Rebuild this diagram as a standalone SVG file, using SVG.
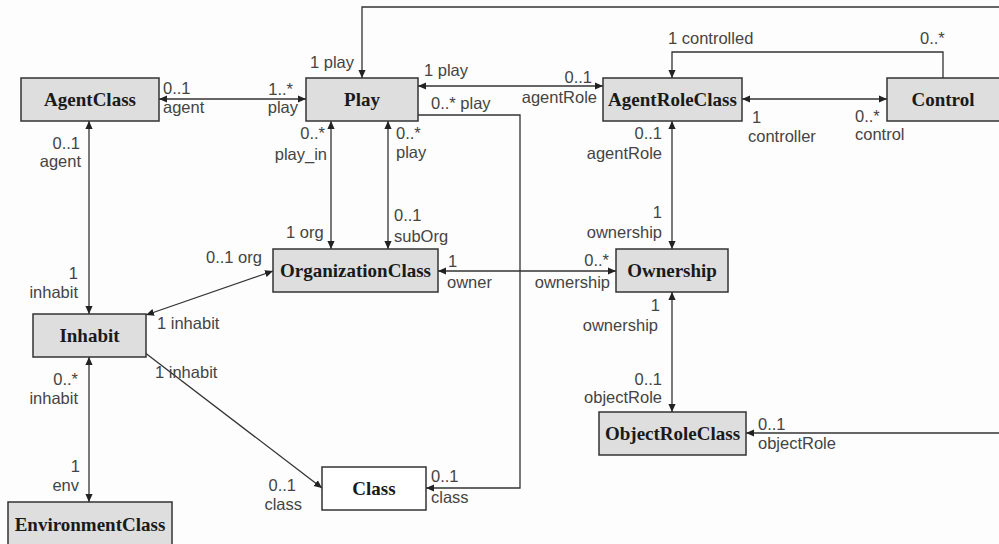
<svg xmlns="http://www.w3.org/2000/svg" width="999" height="544" viewBox="0 0 999 544">
<defs>
<marker id="ah" viewBox="0 0 10 10" refX="10" refY="5" markerWidth="8" markerHeight="8" markerUnits="userSpaceOnUse" orient="auto-start-reverse">
<path d="M0,0.5 L10,5 L0,9.5 Z" fill="#222"/>
</marker>
<marker id="ah2" viewBox="0 0 10 10" refX="10" refY="5" markerWidth="8" markerHeight="8" markerUnits="userSpaceOnUse" orient="auto">
<path d="M0,0.5 L10,5 L0,9.5 Z" fill="#222"/>
</marker>
</defs>
<style>
.box{fill:#dedede;stroke:#333;stroke-width:1.5}
.wbox{fill:#fff;stroke:#333;stroke-width:1.5}
.nt{font-family:"Liberation Serif","Times New Roman",serif;font-size:19px;font-weight:bold;fill:#1a1a1a;text-anchor:middle}
.c{fill:none;stroke:#333;stroke-width:1.3}
.b{marker-start:url(#ah);marker-end:url(#ah)}
.e{marker-end:url(#ah2)}
.l{font-family:"Liberation Sans",Arial,sans-serif;font-size:16.5px;fill:#444}
.r{text-anchor:end}
</style>
<rect width="999" height="544" fill="#fdfdfd"/>
<g id="connectors">
<path class="c e" d="M999,7 H362 V78"/>
<path class="c e" d="M943,78 V52 H672 V78"/>
<line class="c b" x1="159" y1="99" x2="306" y2="99"/>
<line class="c b" x1="418" y1="86" x2="603" y2="86"/>
<line class="c b" x1="742" y1="99" x2="887" y2="99"/>
<path class="c e" d="M418,115 H520 V488 H426"/>
<line class="c b" x1="89" y1="121" x2="89" y2="314"/>
<line class="c b" x1="89" y1="357" x2="89" y2="502"/>
<line class="c b" x1="331" y1="121" x2="331" y2="249"/>
<line class="c b" x1="388" y1="121" x2="388" y2="249"/>
<line class="c b" x1="146" y1="315" x2="273" y2="271"/>
<line class="c e" x1="144" y1="352" x2="322" y2="488"/>
<line class="c b" x1="438" y1="271" x2="616" y2="271"/>
<line class="c b" x1="672" y1="121" x2="672" y2="249"/>
<line class="c b" x1="672" y1="292" x2="672" y2="412"/>
<line class="c e" x1="999" y1="433" x2="746" y2="433"/>
</g>
<g id="AgentClass"><rect class="box" x="21" y="78" width="138" height="43"/><text class="nt" x="90" y="106">AgentClass</text></g>
<g id="Play"><rect class="box" x="306" y="78" width="112" height="43"/><text class="nt" x="362" y="106">Play</text></g>
<g id="AgentRoleClass"><rect class="box" x="603" y="78" width="139" height="43"/><text class="nt" x="672.5" y="106">AgentRoleClass</text></g>
<g id="Control"><rect class="box" x="887" y="78" width="115" height="43"/><text class="nt" x="943" y="106">Control</text></g>
<g id="OrganizationClass"><rect class="box" x="273" y="249" width="165" height="43"/><text class="nt" x="355.5" y="277">OrganizationClass</text></g>
<g id="Ownership"><rect class="box" x="616" y="249" width="112" height="43"/><text class="nt" x="672" y="277">Ownership</text></g>
<g id="Inhabit"><rect class="box" x="33" y="314" width="113" height="43"/><text class="nt" x="89.5" y="342">Inhabit</text></g>
<g id="ObjectRoleClass"><rect class="box" x="599" y="412" width="147" height="43"/><text class="nt" x="672.5" y="440">ObjectRoleClass</text></g>
<g id="Class"><rect class="wbox" x="322" y="467" width="104" height="43"/><text class="nt" x="374" y="495">Class</text></g>
<g id="EnvironmentClass"><rect class="box" x="8" y="502" width="164" height="44"/><text class="nt" x="90" y="531">EnvironmentClass</text></g>
<g id="labels">
<text class="l" x="310" y="68">1 play</text>
<text class="l" x="163" y="94">0..1</text>
<text class="l" x="163" y="113">agent</text>
<text class="l r" x="293" y="95">1..*</text>
<text class="l r" x="298" y="113">play</text>
<text class="l r" x="80" y="149">0..1</text>
<text class="l r" x="81" y="167">agent</text>
<text class="l r" x="325" y="139">0..*</text>
<text class="l r" x="327" y="160">play_in</text>
<text class="l" x="424" y="76">1 play</text>
<text class="l r" x="592" y="83">0..1</text>
<text class="l r" x="597" y="103">agentRole</text>
<text class="l" x="431" y="109">0..* play</text>
<text class="l" x="396" y="139">0..*</text>
<text class="l" x="396" y="158">play</text>
<text class="l r" x="662" y="139">0..1</text>
<text class="l r" x="662" y="159">agentRole</text>
<text class="l" x="668" y="44">1 controlled</text>
<text class="l" x="920" y="44">0..*</text>
<text class="l" x="752" y="123">1</text>
<text class="l" x="748" y="142">controller</text>
<text class="l" x="855" y="122">0..*</text>
<text class="l" x="855" y="140">control</text>
<text class="l" x="286" y="238">1 org</text>
<text class="l" x="394" y="221">0..1</text>
<text class="l" x="394" y="242">subOrg</text>
<text class="l" x="206" y="263">0..1 org</text>
<text class="l r" x="78" y="279">1</text>
<text class="l r" x="78" y="298">inhabit</text>
<text class="l" x="157" y="329">1 inhabit</text>
<text class="l" x="155" y="378">1 inhabit</text>
<text class="l" x="448" y="267">1</text>
<text class="l" x="447" y="288">owner</text>
<text class="l r" x="609" y="266">0..*</text>
<text class="l r" x="610" y="288">ownership</text>
<text class="l r" x="662" y="218">1</text>
<text class="l r" x="662" y="238">ownership</text>
<text class="l r" x="660" y="311">1</text>
<text class="l r" x="658" y="331">ownership</text>
<text class="l r" x="78" y="385">0..*</text>
<text class="l r" x="78" y="404">inhabit</text>
<text class="l r" x="662" y="385">0..1</text>
<text class="l r" x="662" y="403">objectRole</text>
<text class="l" x="758" y="430">0..1</text>
<text class="l" x="758" y="449">objectRole</text>
<text class="l r" x="80" y="472">1</text>
<text class="l r" x="79" y="491">env</text>
<text class="l r" x="296" y="491">0..1</text>
<text class="l r" x="302" y="510">class</text>
<text class="l" x="431" y="482">0..1</text>
<text class="l" x="431" y="503">class</text>
</g>
</svg>
